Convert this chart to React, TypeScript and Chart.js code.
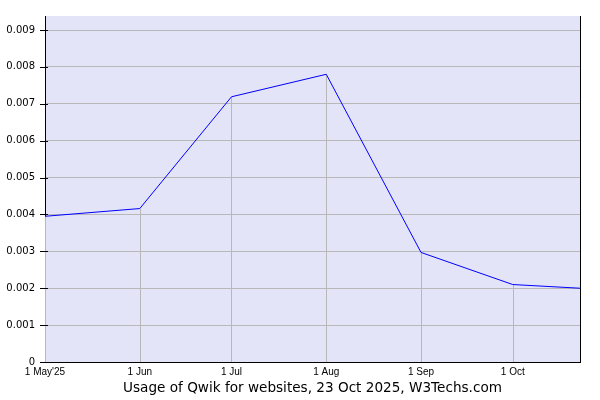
import React, { useEffect, useRef } from "react";
import { Chart, registerables } from "chart.js";

Chart.register(...registerables);

const START_DATE = "2025-05-01";
const END_DATE = "2025-10-23";
const pointDates = ["2025-05-01", "2025-06-01", "2025-07-01", "2025-08-01", "2025-09-01", "2025-10-01", "2025-10-23"];
const usageValues = [0.00395, 0.00416, 0.00719, 0.0078, 0.00297, 0.0021, 0.002];
const tickDates = ["2025-05-01", "2025-06-01", "2025-07-01", "2025-08-01", "2025-09-01", "2025-10-01"];
const tickLabels = ["1 May'25", "1 Jun", "1 Jul", "1 Aug", "1 Sep", "1 Oct"];
const yTickValues = [0, 0.001, 0.002, 0.003, 0.004, 0.005, 0.006, 0.007, 0.008, 0.009];
const Y_MAX = 0.00938;
const TITLE = "Usage of Qwik for websites, 23 Oct 2025, W3Techs.com";

const dayOf = (s: string) => (Date.parse(s + "T00:00:00Z") - Date.parse(START_DATE + "T00:00:00Z")) / 86400000;

const extrasPlugin = {
  id: "extras",
  beforeDraw(chart: any) {
    const { ctx, chartArea: a } = chart;
    ctx.save();
    ctx.fillStyle = "#e4e4f8";
    ctx.fillRect(a.left, a.top, a.right - a.left + 1, a.bottom - a.top);
    ctx.restore();
  },
  beforeDatasetsDraw(chart: any) {
    const { ctx, chartArea: a, scales } = chart;
    ctx.save();
    ctx.strokeStyle = "#b8b8b8";
    ctx.lineWidth = 1;
    const ds = chart.data.datasets[0].data as any[];
    ds.forEach((p) => {
      const x = Math.round(scales.x.getPixelForValue(p.x)) + 0.5;
      const y = scales.y.getPixelForValue(p.y);
      ctx.beginPath();
      ctx.moveTo(x, a.bottom);
      ctx.lineTo(x, y);
      ctx.stroke();
    });
    ctx.restore();
  },
  afterDraw(chart: any) {
    const { ctx, chartArea: a, scales } = chart;
    ctx.save();
    ctx.strokeStyle = "#000";
    ctx.lineWidth = 1;
    // right border
    const rx = Math.round(a.right) + 0.5;
    ctx.beginPath();
    ctx.moveTo(rx, a.top);
    ctx.lineTo(rx, a.bottom + 0.5);
    ctx.stroke();
    // y tick marks
    yTickValues.forEach((v) => {
      const y = Math.round(scales.y.getPixelForValue(v)) + 0.5;
      ctx.beginPath();
      ctx.moveTo(a.left - 5, y);
      ctx.lineTo(a.left + 3, y);
      ctx.stroke();
    });
    // title
    ctx.fillStyle = "#000";
    ctx.font = "13.6px 'DejaVu Sans'";
    ctx.textAlign = "center";
    ctx.textBaseline = "middle";
    ctx.fillText(TITLE, (a.left + a.right) / 2, 388);
    ctx.restore();
  },
};

export default function App() {
  const ref = useRef<HTMLCanvasElement>(null);
  useEffect(() => {
    if (!ref.current) return;
    const chart = new Chart(ref.current, {
      type: "line",
      data: {
        datasets: [
          {
            data: pointDates.map((d, i) => ({ x: dayOf(d), y: usageValues[i] })),
            borderColor: "#0000ff",
            borderWidth: 1,
            pointRadius: 0,
            tension: 0,
            fill: false,
          },
        ],
      },
      options: {
        animation: false,
        responsive: false,
        devicePixelRatio: 1,
        layout: { padding: { top: 15, right: 20, left: 0, bottom: 0 } },
        plugins: { legend: { display: false }, tooltip: { enabled: false }, title: { display: false } },
        scales: {
          x: {
            type: "linear",
            min: 0,
            max: dayOf(END_DATE),
            afterBuildTicks: (scale: any) => {
              scale.ticks = tickDates.map((d) => ({ value: dayOf(d) }));
            },
            afterFit: (scale: any) => {
              scale.height = 38;
            },
            grid: { display: false, drawTicks: false },
            border: { display: true, color: "#000", width: 1 },
            ticks: {
              autoSkip: false,
              maxRotation: 0,
              minRotation: 0,
              padding: 4,
              color: "#000",
              font: { family: "'Liberation Sans'", size: 10 },
              callback: (v: any) => {
                const i = tickDates.findIndex((d) => dayOf(d) === v);
                return i >= 0 ? tickLabels[i] : "";
              },
            },
          },
          y: {
            min: 0,
            max: Y_MAX,
            afterBuildTicks: (scale: any) => {
              scale.ticks = yTickValues.map((v) => ({ value: v }));
            },
            afterFit: (scale: any) => {
              scale.width = 45;
            },
            grid: { color: "#b8b8b8", drawTicks: false, lineWidth: 1 },
            border: { display: true, color: "#000", width: 1 },
            ticks: {
              padding: 10,
              color: "#000",
              font: { family: "'DejaVu Sans'", size: 10 },
              callback: (v: any) => (v === 0 ? "0" : Number(v).toFixed(3)),
            },
          },
        },
      },
      plugins: [extrasPlugin],
    } as any);
    return () => chart.destroy();
  }, []);
  return (
    <div style={{ position: "absolute", left: 0, top: 0, width: 600, height: 400, background: "#fff" }}>
      <canvas ref={ref} width={600} height={400} style={{ width: 600, height: 400, display: "block" }} />
    </div>
  );
}
